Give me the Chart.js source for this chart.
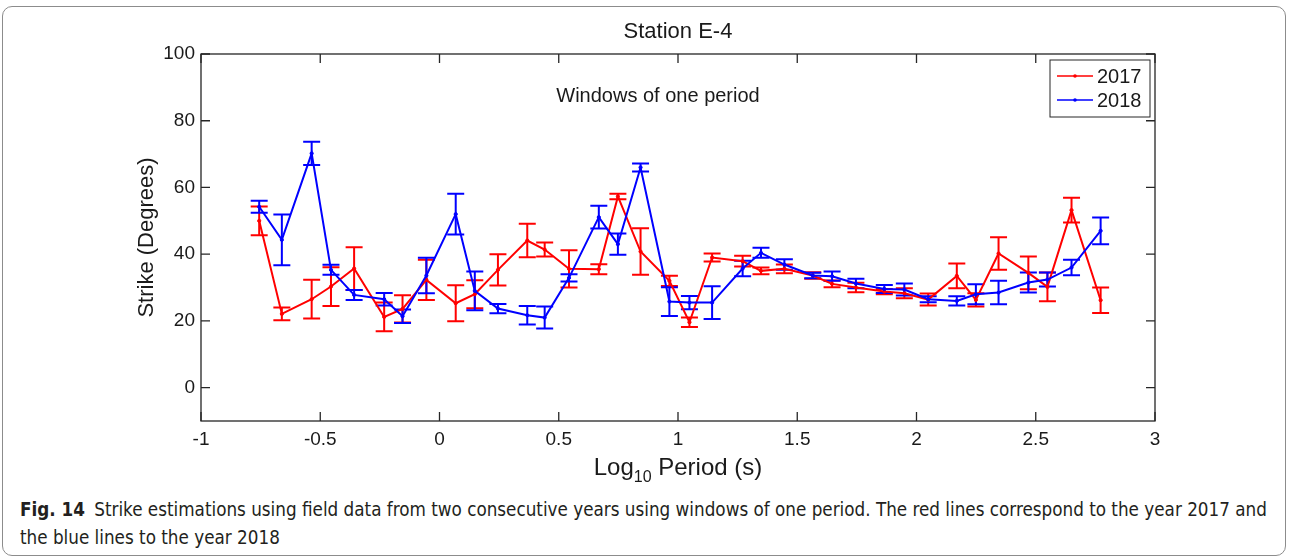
<!DOCTYPE html>
<html>
<head>
<meta charset="utf-8">
<script src="https://cdn.jsdelivr.net/npm/chart.js@4.4.0/dist/chart.umd.min.js"></script>
<style>
html, body { margin: 0; padding: 0; background: #fff; }
body { width: 1290px; height: 560px; position: relative; overflow: hidden; }
#frame { position: absolute; left: 2px; top: 6px; width: 1284px; height: 550px; border: 1.5px solid #8c8c8c; border-radius: 10px; box-sizing: border-box; }
#wrap { position: absolute; left: 0; top: 0; width: 1290px; height: 490px; }
#caption { position: absolute; left: 20px; top: 496px; white-space: nowrap; font-family: "DejaVu Sans Condensed", "Liberation Sans Narrow", sans-serif; font-stretch: condensed; font-size: 18.7px; line-height: 28px; color: #231f20; }
#caption b { font-weight: bold; margin-right: 4px; }
</style>
</head>
<body>
<div id="frame"></div>
<div id="wrap"><canvas id="myChart" width="1290" height="490"></canvas></div>
<div id="caption"><b>Fig. 14</b> Strike estimations using field data from two consecutive years using windows of one period. The red lines correspond to the year 2017 and<br>the blue lines to the year 2018</div>
<script>
// log10 period of each window
var periods = [-0.756, -0.661, -0.536, -0.455, -0.358, -0.232, -0.155, -0.055, 0.068, 0.148,
    0.245, 0.368, 0.441, 0.543, 0.668, 0.748, 0.843, 0.964, 1.048, 1.143,
    1.271, 1.348, 1.446, 1.565, 1.646, 1.746, 1.865, 1.949, 2.049, 2.169,
    2.249, 2.344, 2.469, 2.549, 2.650, 2.772];

var strike2017 = [50, 22.1, 26.5, 30.3, 35.7, 21.2, 23.6, 32.3, 25.3, 28,
    35.3, 44.1, 41.4, 35.6, 35.5, 57.3, 40.8, 32, 19.6, 39,
    37.9, 35, 35.6, 33.6, 31.1, 30, 28.8, 28.3, 26.4, 33.5,
    26.3, 40.2, 34.4, 30.2, 53.2, 26.2];
var err2017 = [4.3, 1.9, 5.8, 5.8, 6.4, 4.3, 4.1, 6, 5.4, 4.2,
    4.7, 5, 2.1, 5.6, 1.5, 0.8, 7, 1.5, 1.4, 1.2,
    1.6, 1, 1.3, 1, 1, 1.4, 0.8, 1.5, 1.8, 3.7,
    2, 4.9, 4.9, 4.3, 3.7, 3.8];

var strike2018 = [54.2, 44.3, 70.2, 35.3, 27.8, 26.5, 21.4, 33.6, 52, 29,
    23.7, 21.7, 21, 32.9, 51.1, 43, 66, 25.8, 25.5, 25.5,
    35.7, 40.4, 36.9, 33.6, 33.4, 31.2, 29.6, 29.4, 26.5, 26,
    28, 28.5, 31.5, 32.4, 36, 47];
var err2018 = [1.8, 7.6, 3.5, 1.5, 1.5, 1.9, 2, 5.3, 6.1, 5.8,
    1.4, 2.8, 3.3, 1.1, 3.4, 3.2, 1.2, 4.3, 2, 4.9,
    2.3, 1.5, 1.6, 0.8, 1.4, 1.4, 1.2, 1.8, 0.9, 1.4,
    3, 3.5, 3, 2.1, 2.3, 4];

var xTicks = [-1, -0.5, 0, 0.5, 1, 1.5, 2, 2.5, 3];
var yTicks = [0, 20, 40, 60, 80, 100];

var FONT = "'Liberation Sans', Arial, sans-serif";

function toPoints(ys) {
    return periods.map(function (p, i) { return { x: p, y: ys[i] }; });
}

// error bars, box, inward ticks, titles, note and legend
var matlabLook = {
    id: 'matlabLook',
    beforeDatasetsDraw: function (chart) {
        var ctx = chart.ctx, xs = chart.scales.x, ys = chart.scales.y;
        ctx.save();
        chart.data.datasets.forEach(function (ds) {
            ctx.strokeStyle = ds.borderColor;
            ctx.lineWidth = 2;
            ds.data.forEach(function (pt, i) {
                var px = xs.getPixelForValue(pt.x);
                var top = ys.getPixelForValue(pt.y + ds.errors[i]);
                var bot = ys.getPixelForValue(pt.y - ds.errors[i]);
                ctx.beginPath();
                ctx.moveTo(px, top); ctx.lineTo(px, bot);
                ctx.moveTo(px - 8.5, top); ctx.lineTo(px + 8.5, top);
                ctx.moveTo(px - 8.5, bot); ctx.lineTo(px + 8.5, bot);
                ctx.stroke();
            });
        });
        ctx.restore();
    },
    afterDraw: function (chart) {
        var ctx = chart.ctx, a = chart.chartArea, xs = chart.scales.x, ys = chart.scales.y;
        ctx.save();
        ctx.strokeStyle = '#262626';
        ctx.lineWidth = 1.3;
        ctx.strokeRect(a.left, a.top, a.right - a.left, a.bottom - a.top);
        ctx.beginPath();
        xTicks.forEach(function (v) {
            var px = xs.getPixelForValue(v);
            ctx.moveTo(px, a.bottom); ctx.lineTo(px, a.bottom - 9);
            ctx.moveTo(px, a.top); ctx.lineTo(px, a.top + 9);
        });
        yTicks.forEach(function (v) {
            var py = ys.getPixelForValue(v);
            ctx.moveTo(a.left, py); ctx.lineTo(a.left + 9, py);
            ctx.moveTo(a.right, py); ctx.lineTo(a.right - 9, py);
        });
        ctx.stroke();

        var cx = (a.left + a.right) / 2;
        ctx.fillStyle = '#1a1a1a';
        ctx.textAlign = 'center';
        ctx.textBaseline = 'middle';
        ctx.font = '22px ' + FONT;
        ctx.fillText('Station E-4', cx, 32);
        ctx.font = '20px ' + FONT;
        ctx.fillText('Windows of one period', 658, 96);

        // x axis title with subscript
        ctx.textAlign = 'left';
        ctx.textBaseline = 'alphabetic';
        var big = '24px ' + FONT, small = '16px ' + FONT;
        ctx.font = big;
        var w1 = ctx.measureText('Log').width, w3 = ctx.measureText(' Period (s)').width;
        ctx.font = small;
        var w2 = ctx.measureText('10').width;
        var x0 = cx - (w1 + w2 + w3) / 2, base = 475;
        ctx.font = big;
        ctx.fillText('Log', x0, base);
        ctx.font = small;
        ctx.fillText('10', x0 + w1, base + 7);
        ctx.font = big;
        ctx.fillText(' Period (s)', x0 + w1 + w2, base);

        // legend
        var lx = 1050, ly = 60;
        ctx.fillStyle = '#fff';
        ctx.fillRect(lx, ly, 100, 57);
        ctx.strokeStyle = '#262626';
        ctx.lineWidth = 1;
        ctx.strokeRect(lx, ly, 100, 57);
        ctx.font = '20px ' + FONT;
        ctx.textBaseline = 'middle';
        chart.data.datasets.forEach(function (ds, i) {
            var y = ly + 16 + i * 24;
            ctx.strokeStyle = ds.borderColor;
            ctx.lineWidth = 1.5;
            ctx.beginPath();
            ctx.moveTo(lx + 7, y); ctx.lineTo(lx + 43, y);
            ctx.stroke();
            ctx.fillStyle = ds.borderColor;
            ctx.beginPath();
            ctx.arc(lx + 25, y, 1.8, 0, Math.PI * 2);
            ctx.fill();
            ctx.fillStyle = '#1a1a1a';
            ctx.fillText(ds.label, lx + 47, y + 1);
        });
        ctx.restore();
    }
};

Chart.defaults.font.family = FONT;
Chart.defaults.color = '#1a1a1a';

var ctx = document.getElementById('myChart').getContext('2d');
var myChart = new Chart(ctx, {
    type: 'line',
    data: {
        datasets: [{
            label: '2017',
            data: toPoints(strike2017),
            errors: err2017,
            borderColor: '#ff0000',
            backgroundColor: '#ff0000',
            borderWidth: 2,
            pointRadius: 1.6,
            pointBorderWidth: 1,
            tension: 0,
            order: 1
        }, {
            label: '2018',
            data: toPoints(strike2018),
            errors: err2018,
            borderColor: '#0000ff',
            backgroundColor: '#0000ff',
            borderWidth: 2,
            pointRadius: 1.6,
            pointBorderWidth: 1,
            tension: 0,
            order: 0
        }]
    },
    options: {
        responsive: false,
        animation: false,
        layout: { padding: { left: 0, right: 135, top: 54, bottom: 0 } },
        plugins: {
            legend: { display: false },
            tooltip: { enabled: false },
            title: { display: false }
        },
        scales: {
            x: {
                type: 'linear',
                min: -1,
                max: 3,
                grid: { display: false, drawTicks: false },
                border: { display: false },
                afterBuildTicks: function (s) { s.ticks = xTicks.map(function (v) { return { value: v }; }); },
                afterFit: function (s) { s.height = 69; },
                ticks: {
                    font: { size: 19 },
                    padding: 7,
                    maxRotation: 0,
                    callback: function (v) { return String(v); }
                },
                title: { display: false }
            },
            y: {
                type: 'linear',
                min: -10,
                max: 100,
                grid: { display: false, drawTicks: false },
                border: { display: false },
                afterBuildTicks: function (s) { s.ticks = yTicks.map(function (v) { return { value: v }; }); },
                afterFit: function (s) { s.width = 201; },
                ticks: { font: { size: 19 }, padding: 6 },
                title: {
                    display: true,
                    text: 'Strike (Degrees)',
                    font: { size: 22 },
                    padding: { top: 134, bottom: 0 }
                }
            }
        }
    },
    plugins: [matlabLook]
});
</script>
</body>
</html>
